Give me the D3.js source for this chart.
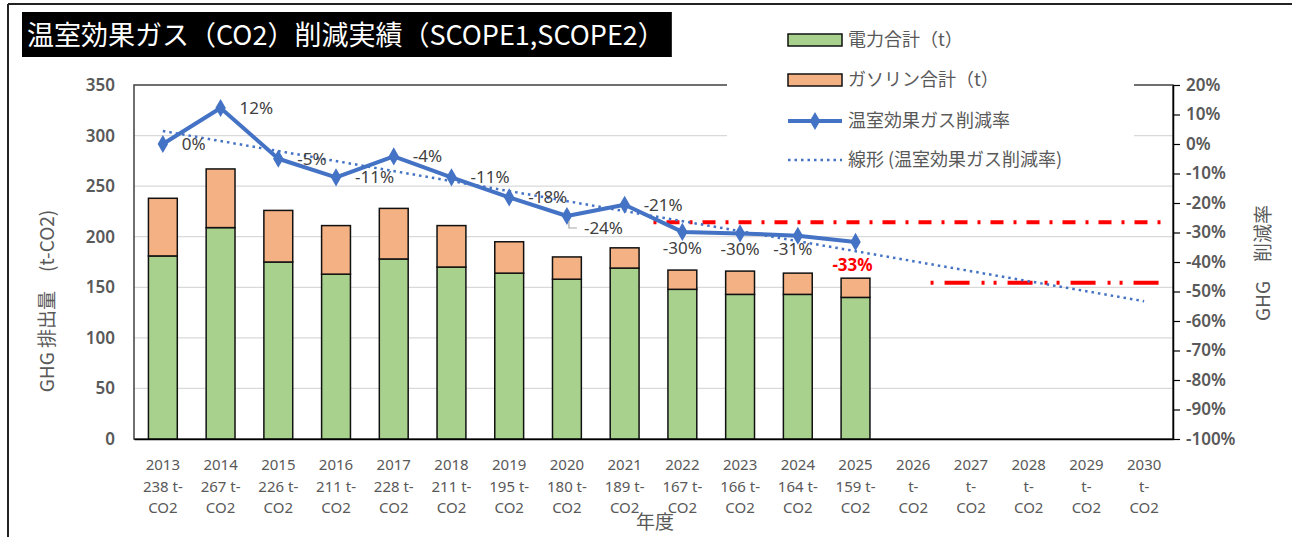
<!DOCTYPE html>
<html>
<head>
<meta charset="utf-8">
<script src="https://cdn.jsdelivr.net/npm/d3@7"></script>
<style>
  body { margin: 0; background: #fff; }
  svg { display: block; }
  text { font-family: "Noto Sans", "Noto Sans CJK JP", sans-serif; }
  .jp { font-family: "Noto Sans CJK JP", "Noto Sans", sans-serif; }
</style>
</head>
<body>
<svg></svg>
<script>
var years = ["2013", "2014", "2015", "2016", "2017", "2018", "2019", "2020", "2021",
             "2022", "2023", "2024", "2025", "2026", "2027", "2028", "2029", "2030"];
var totals = [238, 267, 226, 211, 228, 211, 195, 180, 189, 167, 166, 164, 159];
var power = [181, 209, 175, 163, 178, 170, 164, 158, 169, 148, 143, 143, 140];
var gasoline = [57, 58, 51, 48, 50, 41, 31, 22, 20, 19, 23, 21, 19];
var rates = [0, 12.2, -5.0, -11.3, -4.2, -11.3, -18.1, -24.4, -20.6, -29.8, -30.3, -31.1, -33.2];
var rateLabels = ["0%", "12%", "-5%", "-11%", "-4%", "-11%", "-18%", "-24%", "-21%",
                  "-30%", "-30%", "-31%", "-33%"];
var trendEnds = [4.4, -53.3];
var targetValues = [-26.5, -47];
var targetFrom = ["2022", "2026"];
var targetTo = ["2030", "2030"];
var leftTicks = [0, 50, 100, 150, 200, 250, 300, 350];
var rightTicks = [20, 10, 0, -10, -20, -30, -40, -50, -60, -70, -80, -90, -100];
var seriesNames = ["電力合計（t）", "ガソリン合計（t）", "温室効果ガス削減率", "線形 (温室効果ガス削減率)"];
var title = "温室効果ガス（CO2）削減実績（SCOPE1,SCOPE2）";

var width = 1292;
var height = 537;
var plotL = 134, plotR = 1173, plotT = 85, plotB = 439;

var gray = "#595959";
var blue = "#4472C4";

var svg = d3.select("svg")
            .attr("width", width)
            .attr("height", height);

// outer frame (top and left edges visible)
svg.append("line").attr("x1", 8).attr("x2", width).attr("y1", 4).attr("y2", 4)
    .attr("stroke", "#222").attr("stroke-width", 2);
svg.append("line").attr("x1", 8).attr("x2", 8).attr("y1", 4).attr("y2", height)
    .attr("stroke", "#222").attr("stroke-width", 2);

var x = d3.scaleBand()
          .domain(years)
          .range([plotL, plotR])
          .paddingInner(0.5)
          .paddingOuter(0.25);
var step = x.step();
var cx = d => x(d) + x.bandwidth() / 2;

var yL = d3.scaleLinear().domain([0, 350]).range([plotB, plotT]);
var yR = d3.scaleLinear().domain([-100, 20]).range([plotB, plotT]);

// gridlines
svg.append("g")
    .selectAll("line")
    .data(leftTicks.slice(1, -1))
    .enter()
    .append("line")
      .attr("x1", plotL).attr("x2", plotR)
      .attr("y1", d => yL(d)).attr("y2", d => yL(d))
      .attr("stroke", "#d9d9d9").attr("stroke-width", 1.2);

// plot border
svg.append("rect")
    .attr("x", plotL).attr("y", plotT)
    .attr("width", plotR - plotL).attr("height", plotB - plotT)
    .attr("fill", "none").attr("stroke", "#404040").attr("stroke-width", 1.5);

// stacked bars
var table = totals.map((t, i) => ({ year: years[i], power: power[i], gasoline: gasoline[i] }));
var stacked = d3.stack().keys(["power", "gasoline"])(table);
var fills = ["#A9D18E", "#F4B183"];

svg.append("g")
    .selectAll("g")
    .data(stacked)
    .enter()
    .append("g")
      .attr("fill", (d, i) => fills[i])
    .selectAll("rect")
    .data(d => d)
    .enter()
    .append("rect")
      .attr("x", d => x(d.data.year))
      .attr("width", x.bandwidth())
      .attr("y", d => yL(d[1]))
      .attr("height", d => yL(d[0]) - yL(d[1]))
      .attr("stroke", "#111")
      .attr("stroke-width", 1.5);

// left axis
var yAxis = d3.axisLeft(yL).tickValues(leftTicks).tickSize(0).tickPadding(19);
var gy = svg.append("g")
    .attr("transform", "translate(" + plotL + ",0)")
    .call(yAxis);
gy.select(".domain").remove();
gy.selectAll("text").attr("font-size", 17).attr("fill", gray)
    .attr("font-weight", 600).style("font-family", "Noto Sans");

// right axis
var yAxisR = d3.axisRight(yR).tickValues(rightTicks).tickSize(7).tickSizeOuter(0)
               .tickPadding(6).tickFormat(d => d + "%");
var gr = svg.append("g")
    .attr("transform", "translate(" + plotR + ",0)")
    .call(yAxisR);
gr.select(".domain").attr("stroke", "#000").attr("stroke-width", 1.5);
gr.selectAll(".tick line").attr("stroke", "#000").attr("stroke-width", 1.2);
gr.selectAll("text").attr("font-size", 17).attr("fill", gray)
    .attr("font-weight", 600).style("font-family", "Noto Sans");

// bottom axis
var xAxis = d3.axisBottom(x).tickSize(0).tickSizeOuter(0).tickPadding(0);
var gx = svg.append("g")
    .attr("transform", "translate(0," + plotB + ")")
    .call(xAxis);
gx.select(".domain").attr("stroke", "#000").attr("stroke-width", 1.5);
gx.selectAll(".tick text").each(function (d, i) {
  var t = d3.select(this).text("").attr("dy", null)
            .attr("font-size", 15).attr("fill", gray).attr("y", 0);
  var lines = [d, (totals[i] != null ? totals[i] + " t-" : "t-"), "CO2"];
  lines.forEach((s, k) => {
    t.append("tspan").attr("x", 0).attr("y", 31 + k * 21.5).text(s);
  });
});

// target lines (red dash-dot)
var dashes = ["13,10,3,10", "25,12,3,9,3,11"];
var offsets = [23, 49];
var startShift = [-0.5, 0.3];
svg.append("g")
    .selectAll("line")
    .data(targetValues)
    .enter()
    .append("line")
      .attr("x1", (d, i) => cx(targetFrom[i]) + startShift[i] * step)
      .attr("x2", (d, i) => cx(targetTo[i]) + 0.3 * step)
      .attr("y1", d => yR(d)).attr("y2", d => yR(d))
      .attr("stroke", "#FF0000").attr("stroke-width", 4)
      .attr("stroke-dasharray", (d, i) => dashes[i])
      .attr("stroke-dashoffset", (d, i) => offsets[i]);

// linear trend
svg.append("line")
    .attr("x1", cx(years[0])).attr("x2", cx(years[years.length - 1]))
    .attr("y1", yR(trendEnds[0])).attr("y2", yR(trendEnds[1]))
    .attr("stroke", blue).attr("stroke-width", 2.5)
    .attr("stroke-dasharray", "2.5,4");

// reduction rate line
var line = d3.line().x((d, i) => cx(years[i])).y(d => yR(d));
svg.append("path")
    .datum(rates)
    .attr("d", line)
    .attr("fill", "none")
    .attr("stroke", blue)
    .attr("stroke-width", 4)
    .attr("stroke-linejoin", "round");

var diamond = d3.symbol().type(d3.symbolDiamond).size(95);
svg.append("g")
    .selectAll("path")
    .data(rates)
    .enter()
    .append("path")
      .attr("d", diamond)
      .attr("transform", (d, i) => "translate(" + cx(years[i]) + "," + yR(d) + ")")
      .attr("fill", blue);

// data labels
var labels = svg.append("g");
rates.forEach((d, i) => {
  var px = cx(years[i]), py = yR(d);
  var t = labels.append("text").text(rateLabels[i]).attr("font-size", 17).attr("fill", "#404040");
  if (i === 7) {
    t.attr("x", px + 17).attr("y", py + 18);
    labels.append("path")
        .attr("d", "M" + (px + 2) + "," + (py + 5) + "V" + (py + 12) + "H" + (px + 10))
        .attr("fill", "none").attr("stroke", "#a6a6a6").attr("stroke-width", 1.2);
  } else if (i < 9) {
    t.attr("x", px + 19).attr("y", py + 6);
  } else {
    var dxs = [0, 0, -5, -3];
    var dys = [22, 22, 19, 29];
    t.attr("x", px + dxs[i - 9]).attr("y", py + dys[i - 9]).attr("text-anchor", "middle");
    if (i === rates.length - 1) t.attr("fill", "#FF0000").attr("font-weight", 700);
  }
});

// legend
var lg = svg.append("g");
lg.append("rect").attr("x", 727).attr("y", 16).attr("width", 407).attr("height", 166)
    .attr("fill", "#fff");
var ly = [40, 80, 121, 160];
seriesNames.forEach((name, i) => {
  var y0 = ly[i];
  if (i < 2) {
    lg.append("rect").attr("x", 788).attr("y", y0 - 6).attr("width", 54).attr("height", 12)
        .attr("fill", fills[i]).attr("stroke", "#111").attr("stroke-width", 1.5);
  } else if (i === 2) {
    lg.append("line").attr("x1", 788).attr("x2", 842).attr("y1", y0).attr("y2", y0)
        .attr("stroke", blue).attr("stroke-width", 4);
    lg.append("path").attr("d", diamond).attr("transform", "translate(815," + y0 + ")")
        .attr("fill", blue);
  } else {
    lg.append("line").attr("x1", 788).attr("x2", 842).attr("y1", y0).attr("y2", y0)
        .attr("stroke", blue).attr("stroke-width", 2.5).attr("stroke-dasharray", "2.5,4");
  }
  lg.append("text").attr("class", "jp").attr("x", 848).attr("y", y0 + 6)
      .attr("font-size", 18).attr("fill", gray).text(name);
});

// axis titles
svg.append("text").attr("class", "jp")
    .attr("transform", "translate(54,301) rotate(-90)")
    .attr("text-anchor", "middle").attr("font-size", 19).attr("fill", gray)
    .text("GHG 排出量　(t-CO2)");
svg.append("text").attr("class", "jp")
    .attr("transform", "translate(1270,263) rotate(-90)")
    .attr("text-anchor", "middle").attr("font-size", 19).attr("fill", gray)
    .text("GHG　削減率");
svg.append("text").attr("class", "jp")
    .attr("x", 655).attr("y", 529)
    .attr("text-anchor", "middle").attr("font-size", 19).attr("fill", gray)
    .text("年度");

// title
var tg = svg.append("g");
var tt = tg.append("text").attr("class", "jp")
    .attr("x", 27).attr("y", 45)
    .attr("font-size", 27).attr("fill", "#fff")
    .text(title);
var bb = tt.node().getBBox();
tg.insert("rect", "text")
    .attr("x", 22).attr("y", 12)
    .attr("width", Math.max(634, bb.width + 12)).attr("height", 45)
    .attr("fill", "#000");
</script>
</body>
</html>
